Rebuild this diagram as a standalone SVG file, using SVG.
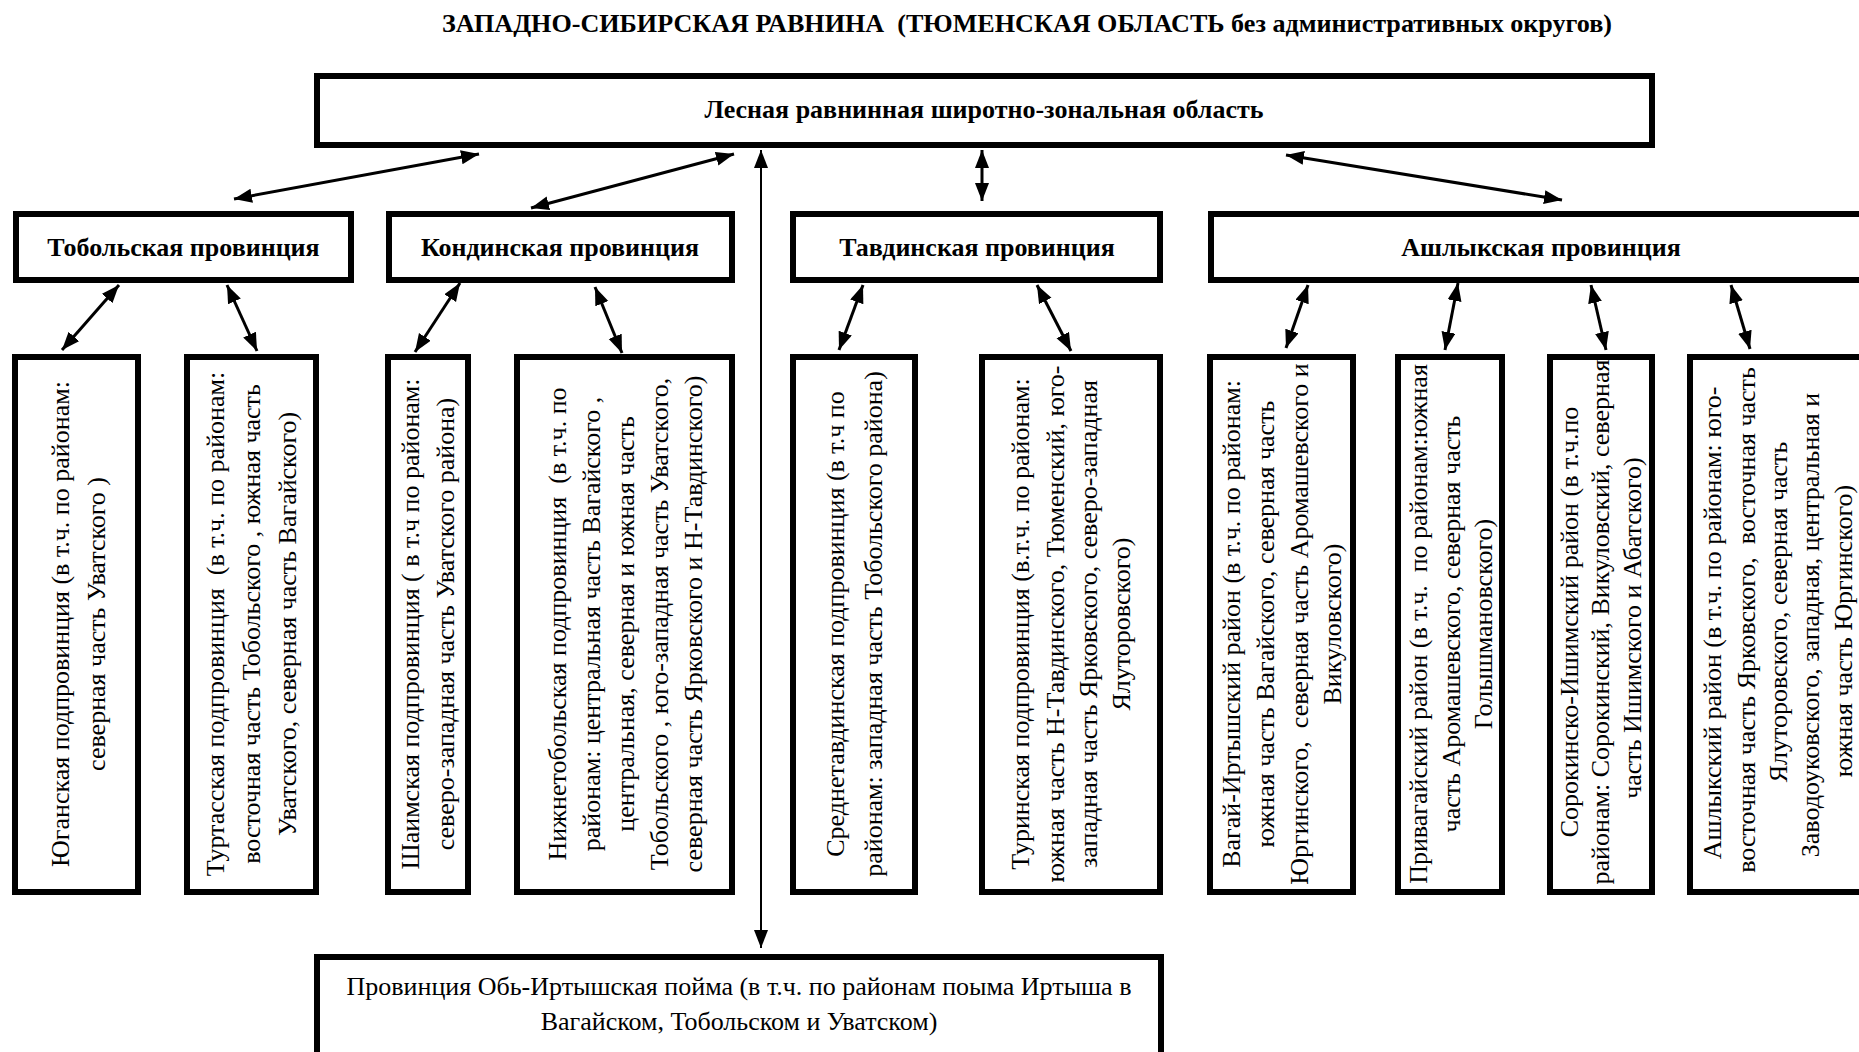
<svg xmlns="http://www.w3.org/2000/svg" width="1859" height="1052" viewBox="0 0 1859 1052">
<style>
.bg{fill:#fff}
.box{fill:#fff;stroke:#000;stroke-width:6}
.t{font-family:"Liberation Serif","Times New Roman",serif;font-size:26px;fill:#000}
.b{font-weight:bold}
.m{text-anchor:middle}
.c{stroke:#000;stroke-width:3;fill:none;marker-start:url(#ah);marker-end:url(#ah)}
.c2{stroke:#000;stroke-width:2;fill:none;marker-start:url(#ah);marker-end:url(#ah)}
</style>
<defs>
<marker id="ah" markerUnits="userSpaceOnUse" markerWidth="20" markerHeight="16" refX="18" refY="7" orient="auto-start-reverse" viewBox="0 0 20 16">
<path d="M0,0 L18,7 L0,14 z" fill="#000"/>
</marker>
</defs>
<rect class="bg" x="0" y="0" width="1859" height="1052"/>
<text id="title" class="t b" x="442" y="32" textLength="1170" lengthAdjust="spacingAndGlyphs" xml:space="preserve">ЗАПАДНО-СИБИРСКАЯ РАВНИНА  (ТЮМЕНСКАЯ ОБЛАСТЬ без административных округов)</text>

<g id="connectors">
<line class="c" x1="479" y1="154" x2="234" y2="199"/>
<line class="c" x1="734" y1="154" x2="531" y2="208"/>
<line class="c" x1="982" y1="150" x2="982" y2="201"/>
<line class="c" x1="1286" y1="155" x2="1562" y2="200"/>
<line class="c2" x1="761" y1="150" x2="761" y2="948"/>
<line class="c" x1="119" y1="285" x2="62" y2="350"/>
<line class="c" x1="227" y1="285" x2="257" y2="351"/>
<line class="c" x1="460" y1="283" x2="415" y2="352"/>
<line class="c" x1="595" y1="287" x2="622" y2="353"/>
<line class="c" x1="863" y1="285" x2="839" y2="350"/>
<line class="c" x1="1037" y1="285" x2="1071" y2="351"/>
<line class="c" x1="1308" y1="285" x2="1286" y2="348"/>
<line class="c" x1="1458" y1="283" x2="1445" y2="350"/>
<line class="c" x1="1591" y1="285" x2="1606" y2="350"/>
<line class="c" x1="1731" y1="285" x2="1750" y2="349"/>
</g>

<g id="zone">
<rect class="box" x="317" y="76" width="1335" height="69"/>
<text class="t b m" x="984" y="118">Лесная равнинная широтно-зональная область</text>
</g>

<g id="prov-tobolsk">
<rect class="box" x="16" y="214" width="335" height="66"/>
<text class="t b m" x="183.5" y="256">Тобольская провинция</text>
</g>
<g id="prov-konda">
<rect class="box" x="389" y="214" width="343" height="66"/>
<text class="t b m" x="560" y="256">Кондинская провинция</text>
</g>
<g id="prov-tavda">
<rect class="box" x="793" y="214" width="367" height="66"/>
<text class="t b m" x="977" y="256">Тавдинская провинция</text>
</g>
<g id="prov-ashlyk">
<rect class="box" x="1211" y="214" width="661" height="66"/>
<text class="t b m" x="1541" y="256">Ашлыкская провинция</text>
</g>

<g id="sub-yugan">
<rect class="box" x="15" y="357" width="123" height="535"/>
<text class="t m" transform="translate(69,624) rotate(-90)">Юганская подпровинция (в т.ч. по районам:</text>
<text class="t m" transform="translate(105,624) rotate(-90)">северная часть Уватского )</text>
</g>
<g id="sub-turtas">
<rect class="box" x="187" y="357" width="129" height="535"/>
<text class="t m" transform="translate(224,624) rotate(-90)" xml:space="preserve">Туртасская подпровинция  (в т.ч. по районам:</text>
<text class="t m" transform="translate(260,624) rotate(-90)">восточная часть Тобольского , южная часть</text>
<text class="t m" transform="translate(296,624) rotate(-90)">Уватского, северная часть Вагайского)</text>
</g>
<g id="sub-shaim">
<rect class="box" x="388" y="357" width="80" height="535"/>
<text class="t m" transform="translate(419,624) rotate(-90)">Шаимская подпровинция ( в т.ч по районам:</text>
<text class="t m" transform="translate(454,624) rotate(-90)">северо-западная часть Уватского района)</text>
</g>
<g id="sub-nizhnetobolsk">
<rect class="box" x="517" y="357" width="215" height="535"/>
<text class="t m" transform="translate(566,624) rotate(-90)" xml:space="preserve">Нижнетобольская подпровинция  (в т.ч. по</text>
<text class="t m" transform="translate(600,624) rotate(-90)">районам: центральная часть Вагайского ,</text>
<text class="t m" transform="translate(634,624) rotate(-90)">центральная, северная и южная часть</text>
<text class="t m" transform="translate(668,624) rotate(-90)">Тобольского , юго-западная часть Уватского,</text>
<text class="t m" transform="translate(702,624) rotate(-90)">северная часть Ярковского и Н-Тавдинского)</text>
</g>
<g id="sub-srednetavda">
<rect class="box" x="793" y="357" width="122" height="535"/>
<text class="t m" transform="translate(844,624) rotate(-90)">Среднетавдинская подпровинция (в т.ч по</text>
<text class="t m" transform="translate(882,624) rotate(-90)">районам: западная часть Тобольского района)</text>
</g>
<g id="sub-tura">
<rect class="box" x="982" y="357" width="178" height="535"/>
<text class="t m" transform="translate(1029,624) rotate(-90)">Туринская подпровинция (в.т.ч. по районам:</text>
<text class="t m" transform="translate(1064,624) rotate(-90)">южная часть Н-Тавдинского, Тюменский, юго-</text>
<text class="t m" transform="translate(1097,624) rotate(-90)">западная часть Ярковского, северо-западная</text>
<text class="t m" transform="translate(1130,624) rotate(-90)">Ялуторовского)</text>
</g>
<g id="reg-vagai-irtysh">
<rect class="box" x="1210" y="357" width="143" height="535"/>
<text class="t m" transform="translate(1240,624) rotate(-90)">Вагай-Иртышский район (в т.ч. по районам:</text>
<text class="t m" transform="translate(1274,624) rotate(-90)">южная часть Вагайского, северная часть</text>
<text class="t m" transform="translate(1308,624) rotate(-90)" xml:space="preserve">Юргинского,  северная часть Аромашевского и</text>
<text class="t m" transform="translate(1341,624) rotate(-90)">Викуловского)</text>
</g>
<g id="reg-privagai">
<rect class="box" x="1398" y="357" width="104" height="535"/>
<text class="t m" transform="translate(1427,624) rotate(-90)" xml:space="preserve">Привагайский район (в т.ч.  по районам:южная</text>
<text class="t m" transform="translate(1460,624) rotate(-90)">часть Аромашевского, северная часть</text>
<text class="t m" transform="translate(1492,624) rotate(-90)">Голышмановского)</text>
</g>
<g id="reg-sorokino-ishim">
<rect class="box" x="1550" y="357" width="102" height="535"/>
<text class="t m" transform="translate(1578,622) rotate(-90)">Сорокинско-Ишимский район (в т.ч.по</text>
<text class="t m" transform="translate(1609,622) rotate(-90)">районам: Сорокинский, Викуловский, северная</text>
<text class="t m" transform="translate(1641,628) rotate(-90)">часть Ишимского и Абатского)</text>
</g>
<g id="reg-ashlyk">
<rect class="box" x="1690" y="357" width="200" height="535"/>
<text class="t m" transform="translate(1721,623) rotate(-90)">Ашлыкский район (в т.ч. по районам: юго-</text>
<text class="t m" transform="translate(1755,620) rotate(-90)" xml:space="preserve">восточная часть Ярковского,  восточная часть</text>
<text class="t m" transform="translate(1787,612) rotate(-90)">Ялуторовского, северная часть</text>
<text class="t m" transform="translate(1819,625) rotate(-90)">Заводоуковского, западная, центральная и</text>
<text class="t m" transform="translate(1852,631) rotate(-90)">южная часть Юргинского)</text>
</g>

<g id="prov-ob-irtysh">
<rect class="box" x="317" y="957" width="844" height="120"/>
<text class="t m" x="739" y="995">Провинция Обь-Иртышская пойма (в т.ч. по районам поыма Иртыша в</text>
<text class="t m" x="739" y="1030">Вагайском, Тобольском и Уватском)</text>
</g>
</svg>
